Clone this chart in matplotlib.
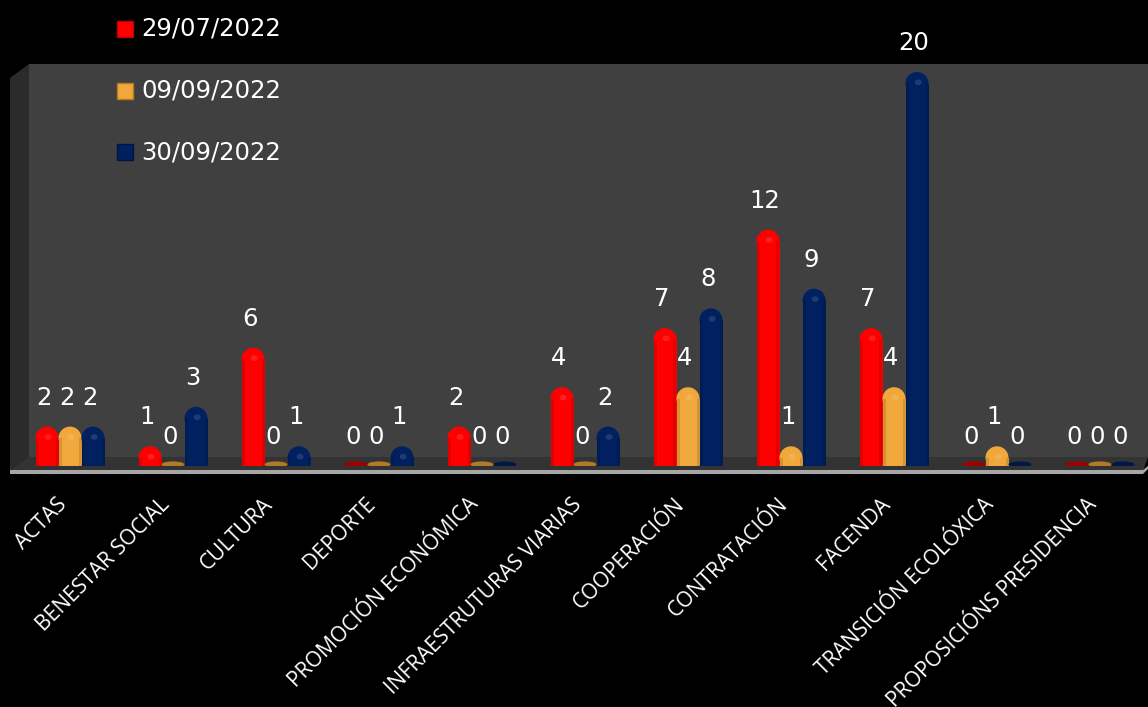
import matplotlib
matplotlib.use("Agg")
import matplotlib.pyplot as plt
from matplotlib.patches import Rectangle, Ellipse, Polygon

categories = ["ACTAS", "BENESTAR SOCIAL", "CULTURA", "DEPORTE", "PROMOCIÓN ECONÓMICA",
              "INFRAESTRUTURAS VIARIAS", "COOPERACIÓN", "CONTRATACIÓN", "FACENDA",
              "TRANSICIÓN ECOLÓXICA", "PROPOSICIÓNS PRESIDENCIA"]
series_names = ["29/07/2022", "09/09/2022", "30/09/2022"]
s_jul29 = [2, 1, 6, 0, 2, 4, 7, 12, 7, 0, 0]
s_sep09 = [2, 0, 0, 0, 0, 0, 4, 1, 4, 1, 0]
s_sep30 = [2, 3, 1, 1, 0, 2, 8, 9, 20, 0, 0]
series = [s_jul29, s_sep09, s_sep30]
colors = ["#FF0000", "#F0A83C", "#002060"]
edge_colors = ["#C00000", "#B87A20", "#001440"]
zero_colors = ["#A00000", "#B07A28", "#001848"]

W, H = 1148, 707
fig = plt.figure(figsize=(W / 100, H / 100), dpi=100)
fig.patch.set_facecolor("black")

def fp(x, y):
    return (x / W, (H - y) / H)

# 3D frame: back wall, side wall, floor
fig.add_artist(Polygon([fp(29, 64), fp(1148, 64), fp(1148, 458), fp(29, 458)],
                       closed=True, transform=fig.transFigure, facecolor="#404040",
                       edgecolor="none", zorder=0))
fig.add_artist(Polygon([fp(10, 78), fp(29, 64), fp(29, 458), fp(10, 472)],
                       closed=True, transform=fig.transFigure, facecolor="#2B2B2B",
                       edgecolor="none", zorder=0))
fig.add_artist(Polygon([fp(10, 471), fp(29, 457), fp(1148, 457), fp(1143, 471)],
                       closed=True, transform=fig.transFigure, facecolor="#333333",
                       edgecolor="none", zorder=0))
fig.add_artist(Polygon([fp(10, 470), fp(1143, 470), fp(1148, 466), fp(1148, 469),
                        fp(1143, 474), fp(10, 474)],
                       closed=True, transform=fig.transFigure, facecolor="#A6A6A6",
                       edgecolor="none", zorder=0))

# axes over the wall
ax_left, ax_right, ax_top, ax_bot = 29, 1148, 64, 466
ax = fig.add_axes([ax_left / W, (H - ax_bot) / H, (ax_right - ax_left) / W, (ax_bot - ax_top) / H])
ax.set_facecolor("none")
ax.axis("off")
px_per_x = 103.0
px_per_y = 19.7
x0 = -41 / px_per_x
ax.set_xlim(x0, x0 + (ax_right - ax_left) / px_per_x)
ax.set_ylim(0, (ax_bot - ax_top) / px_per_y)

bw = 23 / px_per_x
ry = 11.5 / px_per_y
offsets = [-bw, 0, bw]
edge_w = 3 / px_per_x

for s, vals in enumerate(series):
    for i, v in enumerate(vals):
        xc = i + offsets[s]
        if v > 0:
            ax.add_patch(Rectangle((xc - bw / 2, 0), bw, v - ry, facecolor=colors[s],
                                   edgecolor="none", zorder=3))
            ax.add_patch(Ellipse((xc, v - ry), bw, 2 * ry, facecolor=colors[s],
                                 edgecolor="none", zorder=3))
            ax.add_patch(Ellipse((xc, 0), bw, 5 / px_per_y, facecolor=colors[s],
                                 edgecolor="none", zorder=3))
            # subtle darker cylinder edges
            for ex in (xc - bw / 2, xc + bw / 2 - edge_w):
                ax.add_patch(Rectangle((ex, 0), edge_w, max(v - ry, 0), facecolor="black",
                                       alpha=0.12, edgecolor="none", zorder=3.5))
            # soft highlight near top
            ax.add_patch(Ellipse((xc + bw * 0.05, v - ry * 0.9), bw * 0.3, ry * 0.5,
                                 facecolor="white", alpha=0.12, edgecolor="none", zorder=4))
        else:
            ax.add_patch(Ellipse((xc, 0.08), bw, 6 / px_per_y, facecolor=zero_colors[s],
                                 edgecolor="none", zorder=3))
        ax.annotate(str(v), xy=(xc, v), xycoords="data", xytext=(-3, 22),
                    textcoords="offset pixels", ha="center", va="baseline",
                    color="white", fontsize=17.5, family="DejaVu Sans",
                    annotation_clip=False, zorder=5)

for i, c in enumerate(categories):
    ax.annotate(c, xy=(i, 0), xycoords="data", xytext=(-14, -28),
                textcoords="offset pixels", ha="right", va="top", rotation=45,
                rotation_mode="anchor", color="white", fontsize=15.2,
                family="Open Sans", annotation_clip=False)

# legend
leg_y = [29, 91, 152]
for s, name in enumerate(series_names):
    y = leg_y[s]
    fig.add_artist(Rectangle(fp(117, y + 8), 16 / W, 16 / H, transform=fig.transFigure,
                             facecolor=colors[s], edgecolor=edge_colors[s], linewidth=1,
                             zorder=5))
    fig.text(141 / W, (H - y) / H, name, color="white", fontsize=17.5,
             family="DejaVu Sans", ha="left", va="center", zorder=5)

fig.savefig("out.png", dpi=100, facecolor="black")
